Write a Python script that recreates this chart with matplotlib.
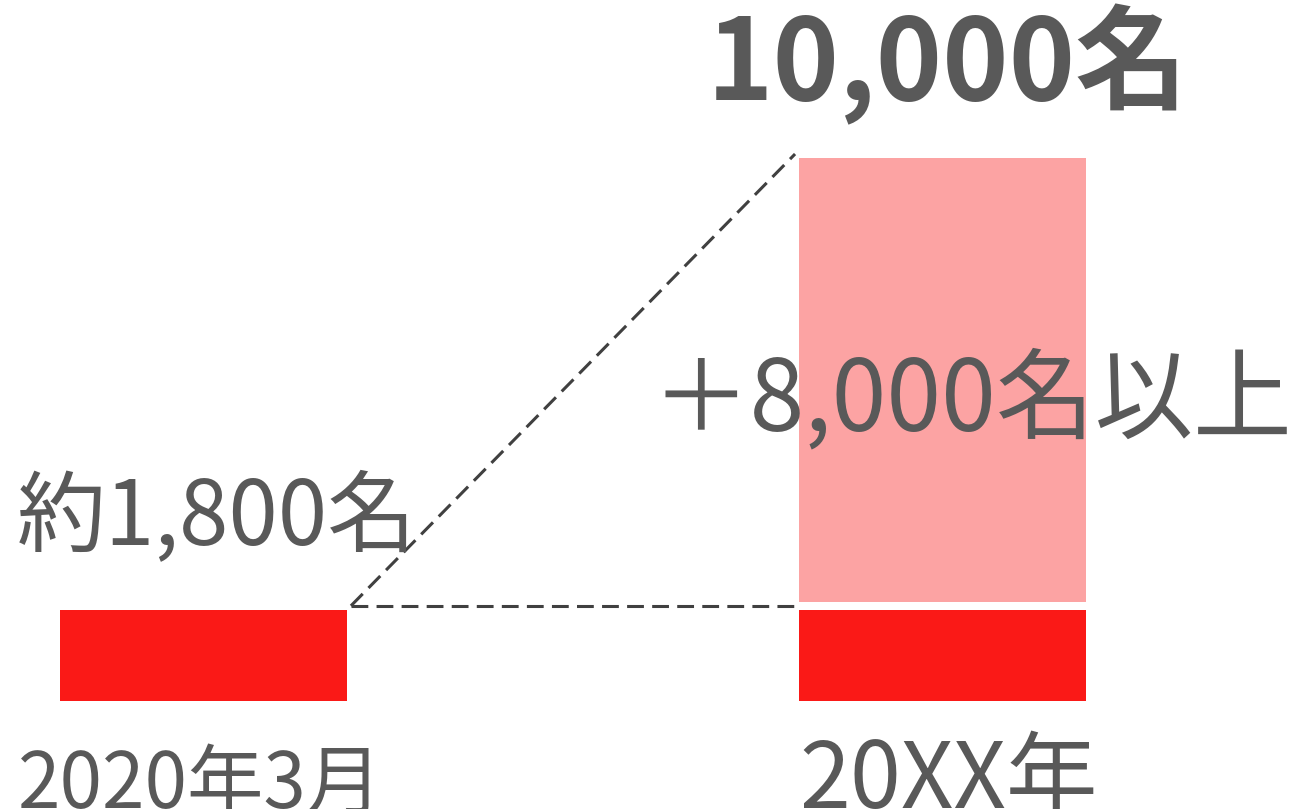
import matplotlib.pyplot as plt

plt.rcParams['font.family'] = ['Noto Sans CJK JP', 'DejaVu Sans']

# data
categories = ['2020年3月', '20XX年']
current = [1800, 1800]        # 約1,800名
added = [0, 8200]             # +8,000名以上 -> 10,000名
current_label = '約1,800名'
added_label = '＋8,000名以上'
total_label = '10,000名'

red = '#fa1917'
pink = '#fca3a3'
grey = '#595959'

fig = plt.figure(figsize=(12.94, 8.09), dpi=100)
ax = fig.add_axes([0, 0, 1, 1])
ax.set_xlim(-0.2754, 1.4757)
ax.set_ylim(-1887, 12795)
ax.axis('off')

x = range(len(categories))
w = 0.399
ax.bar(x, current, width=w, color=red, edgecolor='white', linewidth=5.76)
ax.bar(x, added, width=w, bottom=current, color=pink, edgecolor='white', linewidth=5.76)

# dashed guide lines from the 2020 bar to the 20XX bar
x0 = 0 + w / 2
x1 = 1 - w / 2
top = current[1] + added[1]
ax.plot([x0, x1], [current[0], current[0]], ls='--', color='#404040', lw=2.2, dashes=(5.5, 2.7))
ax.plot([x0, x1], [current[0], top], ls='--', color='#404040', lw=2.2, dashes=(5.5, 2.7))

# texts
fig.text(0.1546, 0.0012, categories[0], ha='center', va='baseline', fontsize=55, color=grey)
fig.text(0.733, 0.0012, categories[1], ha='center', va='baseline', fontsize=66, color=grey)
fig.text(0.1673, 0.326, current_label, ha='center', va='baseline', fontsize=64, color=grey)
fig.text(0.751, 0.4685, added_label, ha='center', va='baseline', fontsize=71, color=grey)
fig.text(0.7325, 0.8764, total_label, ha='center', va='baseline', fontsize=81,
         fontweight='bold', color=grey)

fig.savefig('out.png', dpi=100)
